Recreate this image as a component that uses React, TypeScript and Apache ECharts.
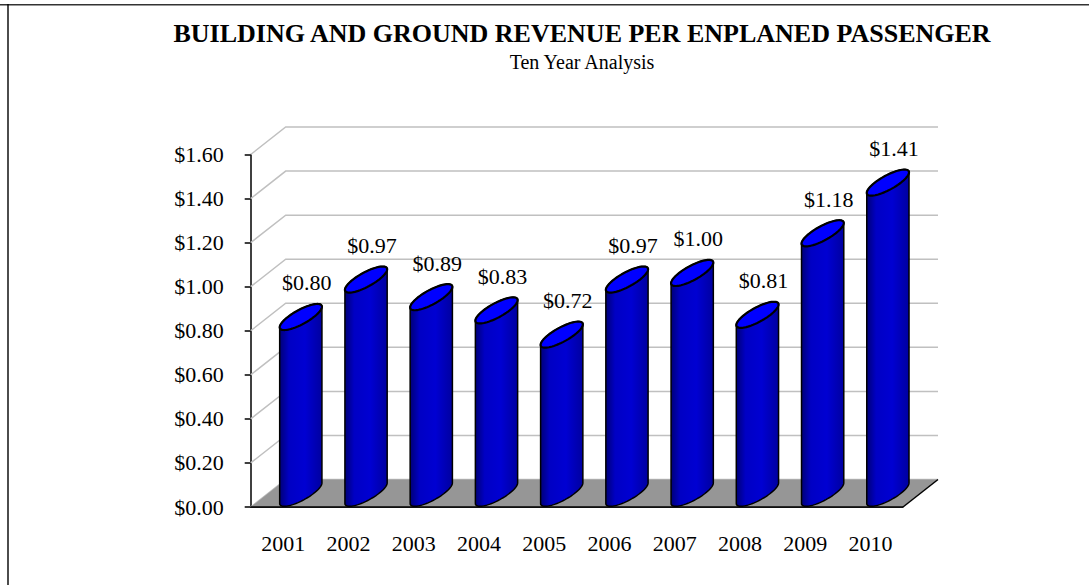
import React, { useEffect, useRef } from "react";
import * as echarts from "echarts";

const categories = ["2001", "2002", "2003", "2004", "2005", "2006", "2007", "2008", "2009", "2010"];
const values = [0.8, 0.97, 0.89, 0.83, 0.72, 0.97, 1.0, 0.81, 1.18, 1.41];
const yTicks = [0, 0.2, 0.4, 0.6, 0.8, 1.0, 1.2, 1.4, 1.6];
const titleText = "BUILDING AND GROUND REVENUE PER ENPLANED PASSENGER";
const subtitleText = "Ten Year Analysis";

const DX = 35;
const DY = -27.5;
const DEPTH_FRAC = 0.95;
const FONT = "'Liberation Serif', 'Times New Roman', serif";

function ellipsePts(cx: number, cy: number, r: number, a: number, b: number, t0: number, t1: number, n: number) {
  const pts: number[][] = [];
  for (let i = 0; i <= n; i++) {
    const t = t0 + ((t1 - t0) * i) / n;
    pts.push([cx + r * Math.cos(t) + a * Math.sin(t), cy + b * Math.sin(t)]);
  }
  return pts;
}

const fmt = (v: number) => "$" + v.toFixed(2);

export default function App() {
  const ref = useRef<HTMLDivElement>(null);
  useEffect(() => {
    if (!ref.current) return;
    const chart = echarts.init(ref.current, undefined, { renderer: "svg" });
    const option: any = {
      animation: false,
      backgroundColor: "#ffffff",
      grid: { left: 250.7, right: 186, top: 154.5, bottom: 78, containLabel: false },
      xAxis: {
        type: "category",
        data: categories,
        axisLine: { show: true, lineStyle: { color: "#000", width: 1.5 } },
        axisTick: { show: false },
        axisLabel: { color: "#000", fontFamily: FONT, fontSize: 22, margin: 25 },
        splitLine: { show: false },
      },
      yAxis: {
        type: "value",
        min: 0,
        max: 1.6,
        interval: 0.2,
        axisLine: { show: true, lineStyle: { color: "#000", width: 1.5 } },
        axisTick: { show: true, length: 6, lineStyle: { color: "#000", width: 1.5 } },
        axisLabel: { color: "#000", fontFamily: FONT, fontSize: 22, margin: 27, formatter: (v: number) => fmt(v) },
        splitLine: { show: false },
      },
      graphic: [
        { type: "line", shape: { x1: 0, y1: 4.7, x2: 1089, y2: 4.7 }, style: { stroke: "#333", lineWidth: 1.4 }, z: 10 },
        { type: "line", shape: { x1: 8, y1: 4, x2: 8, y2: 585 }, style: { stroke: "#000", lineWidth: 1.4 }, z: 10 },
        {
          type: "text",
          x: 582,
          y: 33,
          style: { text: titleText, fontFamily: FONT, fontSize: 26, fontWeight: "bold", fill: "#000", textAlign: "center", textVerticalAlign: "middle" },
        },
        {
          type: "text",
          x: 582,
          y: 62,
          style: { text: subtitleText, fontFamily: FONT, fontSize: 20, fill: "#000", textAlign: "center", textVerticalAlign: "middle" },
        },
      ],
      series: [
        {
          type: "custom",
          name: "walls",
          data: yTicks.map((v) => [0, v]),
          silent: true,
          renderItem: (params: any, api: any) => {
            const cs = params.coordSys;
            const y = api.coord([0, api.value(1)])[1];
            const x0 = cs.x;
            const x1 = cs.x + cs.width;
            return {
              type: "polyline",
              shape: { points: [[x0, y], [x0 + DX, y + DY], [x1 + DX, y + DY]] },
              style: { stroke: "#C0C0C0", lineWidth: 1.5, fill: "none" },
            };
          },
        },
        {
          type: "custom",
          name: "floor",
          data: [[0, 0]],
          silent: true,
          renderItem: (params: any, api: any) => {
            const cs = params.coordSys;
            const y0 = api.coord([0, 0])[1];
            const x0 = cs.x;
            const x1 = cs.x + cs.width;
            return {
              type: "group",
              children: [
                {
                  type: "polygon",
                  shape: { points: [[x0, y0], [x0 + DX, y0 + DY], [x1 + DX, y0 + DY], [x1, y0]] },
                  style: { fill: "#969696", stroke: "none" },
                },
                { type: "line", shape: { x1: x1, y1: y0, x2: x1 + DX, y2: y0 + DY }, style: { stroke: "#000", lineWidth: 1.5 } },
                { type: "line", shape: { x1: x0, y1: y0, x2: x1, y2: y0 }, style: { stroke: "#000", lineWidth: 1.5 } },
              ],
            };
          },
        },
        {
          type: "custom",
          name: "cylinders",
          data: values.map((v, i) => [i, v]),
          renderItem: (params: any, api: any) => {
            const i = api.value(0);
            const v = api.value(1);
            const [fx, yv] = api.coord([i, v]);
            const y0 = api.coord([i, 0])[1];
            const bw = api.size([1, 0])[0];
            const r = bw * 0.2;
            const a = (DEPTH_FRAC * DX) / 2;
            const b = (DEPTH_FRAC * DY) / 2;
            const cx = fx + DX / 2;
            const cyTop = yv + DY / 2;
            const cyBot = y0 + DY / 2;
            const tR = Math.atan2(a, r);
            const tL = tR + Math.PI;
            const bottomArc = ellipsePts(cx, cyBot, r, a, b, tL, tR + 2 * Math.PI, 40);
            const topArc = ellipsePts(cx, cyTop, r, a, b, tR, tL, 40);
            const body = bottomArc.concat(topArc);
            const topFull = ellipsePts(cx, cyTop, r, a, b, 0, 2 * Math.PI, 72);
            return {
              type: "group",
              children: [
                {
                  type: "polygon",
                  shape: { points: body },
                  style: {
                    fill: new echarts.graphic.LinearGradient(0, 0, 1, 0, [
                      { offset: 0, color: "#000078" },
                      { offset: 0.22, color: "#0000C4" },
                      { offset: 0.6, color: "#0000D2" },
                      { offset: 1, color: "#0000A0" },
                    ]),
                    stroke: "#000",
                    lineWidth: 1.5,
                    lineJoin: "round",
                  },
                },
                {
                  type: "polygon",
                  shape: { points: topFull },
                  style: { fill: "#0000FF", stroke: "#000", lineWidth: 2.2 },
                },
                {
                  type: "text",
                  x: cx + 6,
                  y: cyTop + b - 21,
                  style: {
                    text: fmt(v),
                    fontFamily: FONT,
                    fontSize: 22,
                    fill: "#000",
                    textAlign: "center",
                    textVerticalAlign: "middle",
                  },
                },
              ],
            };
          },
        },
      ],
    };
    chart.setOption(option);
    return () => chart.dispose();
  }, []);
  return <div ref={ref} style={{ position: "absolute", left: 0, top: 0, width: 1089, height: 585 }} />;
}
